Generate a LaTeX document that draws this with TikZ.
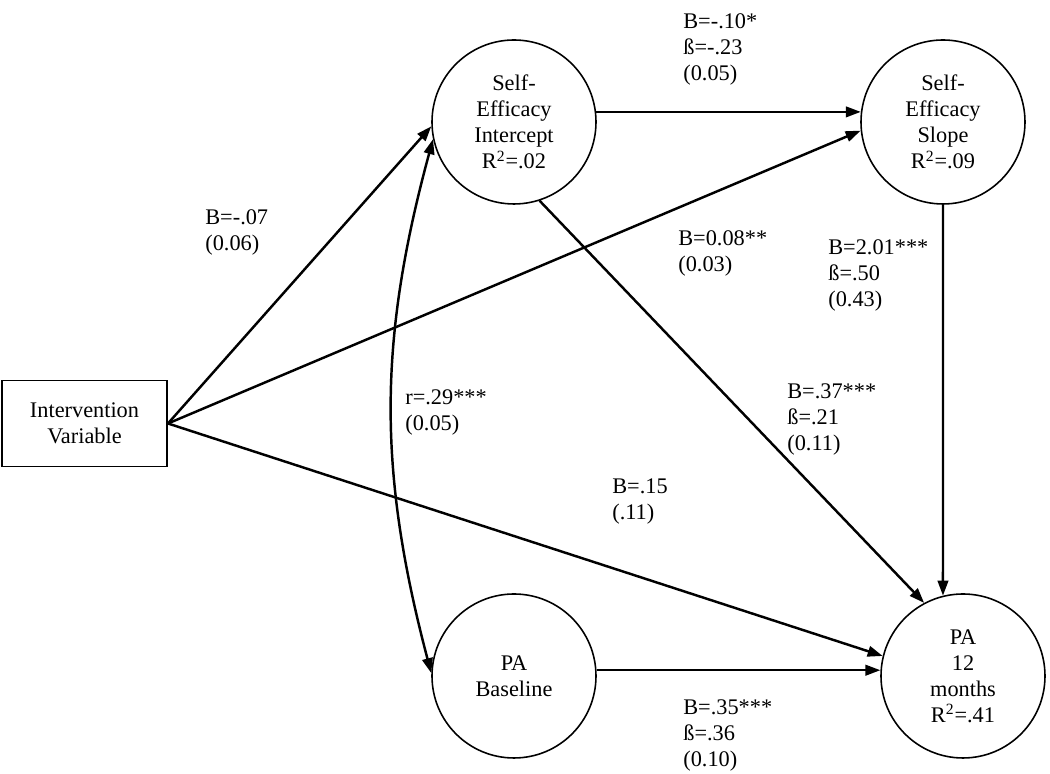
\documentclass[tikz,border=0pt]{standalone}
\usepackage{fontspec}
\setmainfont{Liberation Serif}
\usetikzlibrary{arrows.meta}

\begin{document}
\begin{tikzpicture}[
    >={Triangle[length=0.3cm,width=0.21cm]},
    every node/.style={font=\fontsize{12.7}{14.8}\selectfont},
    latent/.style={draw,circle,minimum size=3.28cm,inner sep=0pt,align=center,line width=0.9pt},
    obs/.style={draw,rectangle,minimum width=3.3cm,minimum height=1.72cm,align=center,line width=1.1pt},
    coef/.style={anchor=base west,align=left,inner sep=0pt},
    path/.style={->,line width=1.4pt}
  ]
  \useasboundingbox (0,0) rectangle (21,15.48);

  \node[obs] (iv) at (1.69,7.01) {Intervention\\Variable};
  \node[latent] (int) at (10.28,13.04) {Self-\\Efficacy\\Intercept\\R\textsuperscript{2}=.02};
  \node[latent] (slope) at (18.86,13.04) {Self-\\Efficacy\\Slope\\R\textsuperscript{2}=.09};
  \node[latent] (base) at (10.28,1.96) {PA\\Baseline};
  \node[latent] (pa12) at (19.26,1.96) {PA\\12\\months\\R\textsuperscript{2}=.41};

  % paths
  \draw[path] (iv.east) -- (int.183);
  \draw[path] (iv.east) -- (slope.186);
  \draw[path] (iv.east) -- (pa12.166);
  \draw[path] (int.7) -- (slope.173);
  \draw[path] (int.288) -- (pa12.118);
  \draw[path] (slope.270) -- (pa12.104);
  \draw[path] (base.4) -- (pa12.176);
  \draw[path,<->] (int.192) to[bend right=15] (base.178);

  % coefficients (placed by the baseline of their last line)
  \node[coef] (c1) at (13.66,13.86) {B=-.10*\\ß=-.23\\(0.05)};
  \node[coef] (c2) at (4.10,10.46) {B=-.07\\(0.06)};
  \node[coef] (c3) at (13.56,10.04) {B=0.08**\\(0.03)};
  \node[coef] (c4) at (16.56,9.34) {B=2.01***\\ß=.50\\(0.43)};
  \node[coef] (c5) at (8.10,6.86) {r=.29***\\(0.05)};
  \node[coef] (c6) at (15.74,6.46) {B=.37***\\ß=.21\\(0.11)};
  \node[coef] (c7) at (12.24,5.08) {B=.15\\(.11)};
  \node[coef] (c8) at (13.66,0.14) {B=.35***\\ß=.36\\(0.10)};
\end{tikzpicture}
\end{document}
